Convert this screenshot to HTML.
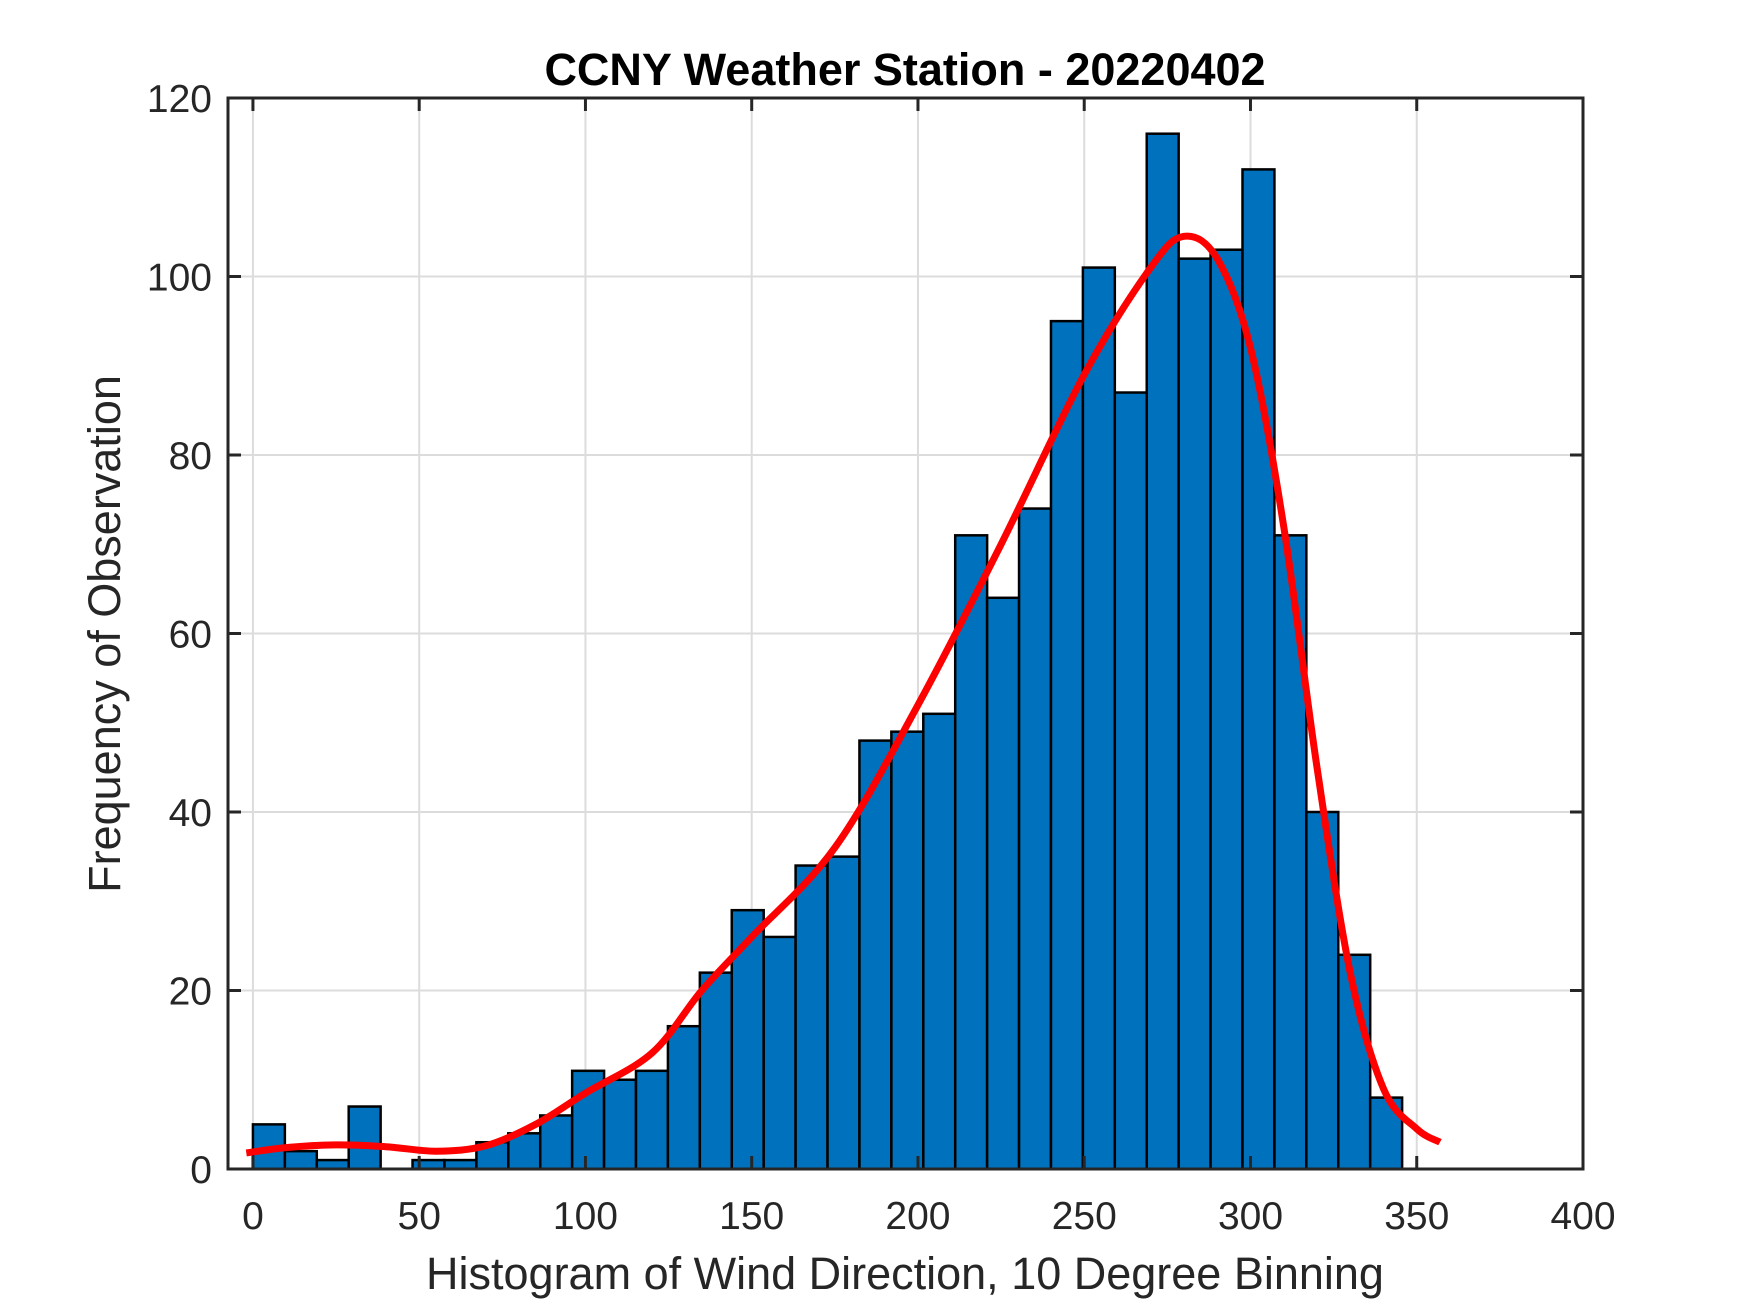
<!DOCTYPE html>
<html><head><meta charset="utf-8"><style>
html,body{margin:0;padding:0;background:#fff;}
svg{display:block;font-family:"Liberation Sans",Arial,sans-serif;}
</style></head><body>
<svg id="chart" width="1750" height="1313" viewBox="0 0 1750 1313" xmlns="http://www.w3.org/2000/svg">
<rect width="1750" height="1313" fill="#fff"/>
<g id="grid"></g>
<g id="bars"></g>
<g id="curve"></g>
<g id="axes"></g>
<text x="905" y="85" text-anchor="middle" font-size="45" font-weight="bold" fill="#000">CCNY Weather Station - 20220402</text>
<text x="905" y="1289" text-anchor="middle" font-size="45" fill="#262626">Histogram of Wind Direction, 10 Degree Binning</text>
<text transform="translate(120,634) rotate(-90)" text-anchor="middle" font-size="45" fill="#262626">Frequency of Observation</text>
</svg>
<script>
const counts = [5,2,1,7,0,1,1,3,4,6,11,10,11,16,22,29,26,34,35,48,49,51,71,64,74,95,101,87,116,102,103,112,71,40,24,8];
const binStart = 0;
const binWidth = 9.6;
const xTicks = [0,50,100,150,200,250,300,350,400];
const yTicks = [0,20,40,60,80,100,120];
const curveX = [-2,10,25,40,55,70,85,100,120,135,150,175,200,225,250,270,280,290,300,310,320,330,340,350,357];
const curveY = [1.8,2.4,2.7,2.5,2,2.6,5,8.5,13,20,26,36,52,70,89,101,104.5,102,92,72,45,22,9,4.5,3];

const L=228,R=1583,T=98,B=1169,XMIN=-7.5,XMAX=400,YMIN=0,YMAX=120;
const NS='http://www.w3.org/2000/svg';
function sx(v){return L+(v-XMIN)/(XMAX-XMIN)*(R-L);}
function sy(v){return B-(v-YMIN)/(YMAX-YMIN)*(B-T);}
function mk(tag,attrs,parent){const e=document.createElementNS(NS,tag);for(const k in attrs)e.setAttribute(k,attrs[k]);parent.appendChild(e);return e;}
const grid=document.getElementById('grid'),bars=document.getElementById('bars'),curve=document.getElementById('curve'),axes=document.getElementById('axes');
xTicks.forEach(t=>{const l=mk('line',{x1:sx(t),x2:sx(t),y1:T,y2:B,stroke:'#dcdcdc','stroke-width':2},grid);

});
yTicks.forEach(t=>{const l=mk('line',{x1:L,x2:R,y1:sy(t),y2:sy(t),stroke:'#dcdcdc','stroke-width':2},grid);

});
counts.forEach((c,i)=>{if(c<=0)return;const x0=sx(binStart+i*binWidth),x1=sx(binStart+(i+1)*binWidth);
const r=mk('rect',{x:x0,y:sy(c),width:x1-x0,height:sy(0)-sy(c),fill:'#0072BD',stroke:'#000','stroke-width':2.5},bars);

});
const P=curveX.map((x,i)=>[sx(x),sy(curveY[i])]);
let d='M'+P[0][0].toFixed(1)+','+P[0][1].toFixed(1);
for(let i=0;i<P.length-1;i++){const p0=P[Math.max(i-1,0)],p1=P[i],p2=P[i+1],p3=P[Math.min(i+2,P.length-1)];
const c1=[p1[0]+(p2[0]-p0[0])/6,p1[1]+(p2[1]-p0[1])/6],c2=[p2[0]-(p3[0]-p1[0])/6,p2[1]-(p3[1]-p1[1])/6];
d+='C'+c1[0].toFixed(1)+','+c1[1].toFixed(1)+' '+c2[0].toFixed(1)+','+c2[1].toFixed(1)+' '+p2[0].toFixed(1)+','+p2[1].toFixed(1);}
const p=mk('path',{d:d,fill:'none',stroke:'#ff0000','stroke-width':7,'stroke-linejoin':'round'},curve);


const box=mk('rect',{x:L,y:T,width:R-L,height:B-T,fill:'none',stroke:'#262626','stroke-width':3},axes);


xTicks.forEach(t=>{const x=sx(t);
mk('line',{x1:x,x2:x,y1:B,y2:B-13,stroke:'#262626','stroke-width':3},axes);
mk('line',{x1:x,x2:x,y1:T,y2:T+13,stroke:'#262626','stroke-width':3},axes);
const tx=mk('text',{x:x,y:1229,'text-anchor':'middle','font-size':39,fill:'#262626'},axes);tx.textContent=t;

});
yTicks.forEach(t=>{const y=sy(t);
mk('line',{x1:L,x2:L+13,y1:y,y2:y,stroke:'#262626','stroke-width':3},axes);
mk('line',{x1:R,x2:R-13,y1:y,y2:y,stroke:'#262626','stroke-width':3},axes);
const tx=mk('text',{x:212,y:y+14,'text-anchor':'end','font-size':39,fill:'#262626'},axes);tx.textContent=t;

});
</script>
</body></html>
